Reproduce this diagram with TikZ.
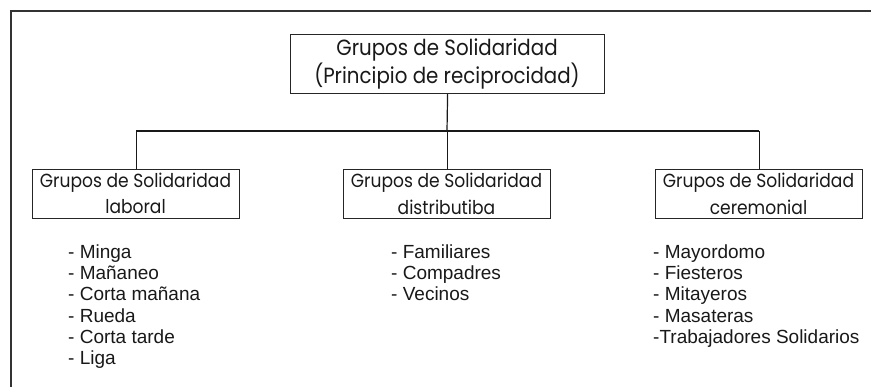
\documentclass[tikz,border=0pt]{standalone}
\usepackage{fontspec}
\setmainfont{Liberation Sans}
\newfontfamily\boxfont[FakeStretch=0.9]{Poppins}
\begin{document}
\begin{tikzpicture}[x=1pt,y=-1pt,
  boxnode/.style={draw=black!85,line width=1.2pt,inner sep=0pt,anchor=north west},
  boxtext/.style={font=\boxfont\fontsize{19}{24}\selectfont,inner sep=0pt,anchor=center,text=black!90},
  toptext/.style={font=\boxfont\fontsize{22}{26}\selectfont,inner sep=0pt,anchor=center,text=black!90},
  itemtext/.style={font=\fontsize{19}{21.3}\selectfont,inner sep=0pt,anchor=base west,text=black!90},
  link/.style={draw=black!90,line width=1.2pt}]
\useasboundingbox (0,0) rectangle (871,387);
\fill[white] (0,0) rectangle (871,387);
% frame
\coordinate (fa) at (11,387);
\coordinate (fb) at (11,11);
\coordinate (fc) at (871,11);
\draw[draw=black!80,line width=2.7pt] (fa) -- (fb) -- (fc);
% boxes
\node[boxnode,minimum width=314pt,minimum height=59pt] (top) at (290,34) {};
\node[toptext] (topa) at (447,50) {Grupos de Solidaridad};
\node[toptext] (topb) at (447,76) {(Principio de reciprocidad)};
\node[boxnode,minimum width=207pt,minimum height=49pt] (lab) at (32,169) {};
\node[boxnode,minimum width=207pt,minimum height=49pt] (dis) at (343,169) {};
\node[boxnode,minimum width=207pt,minimum height=49pt] (cer) at (655,169) {};
\node[boxtext] (laba) at (135.5,183) {Grupos de Solidaridad};
\node[boxtext] (labb) at (135.5,207) {laboral};
\node[boxtext] (disa) at (446.5,183) {Grupos de Solidaridad};
\node[boxtext] (disb) at (446.5,207) {distributiba};
\node[boxtext] (cera) at (758.5,183) {Grupos de Solidaridad};
\node[boxtext] (cerb) at (758.5,207) {ceremonial};
% connectors
\coordinate (hub) at (447,131);
\coordinate (hl) at (lab.north |- hub);
\coordinate (hr) at (cer.north |- hub);
\draw[link] (top.south) -- (hub);
\draw[link] (hl) -- (hr);
\draw[link] (hl) -- (lab.north);
\draw[link] (dis.north |- hub) -- (dis.north);
\draw[link] (hr) -- (cer.north);
% lists
\foreach \t [count=\i] in {- Minga,- Mañaneo,- Corta mañana,- Rueda,- Corta tarde,- Liga}
  \node[itemtext] (la\i) at (68,{258.3+(\i-1)*21.3}) {\t};
\foreach \t [count=\i] in {- Familiares,- Compadres,- Vecinos}
  \node[itemtext] (da\i) at (391,{258.3+(\i-1)*21.3}) {\t};
\foreach \t [count=\i] in {- Mayordomo,- Fiesteros,- Mitayeros,- Masateras,-Trabajadores Solidarios}
  \node[itemtext] (ca\i) at (653,{258.3+(\i-1)*21.3}) {\t};
\end{tikzpicture}
\end{document}
